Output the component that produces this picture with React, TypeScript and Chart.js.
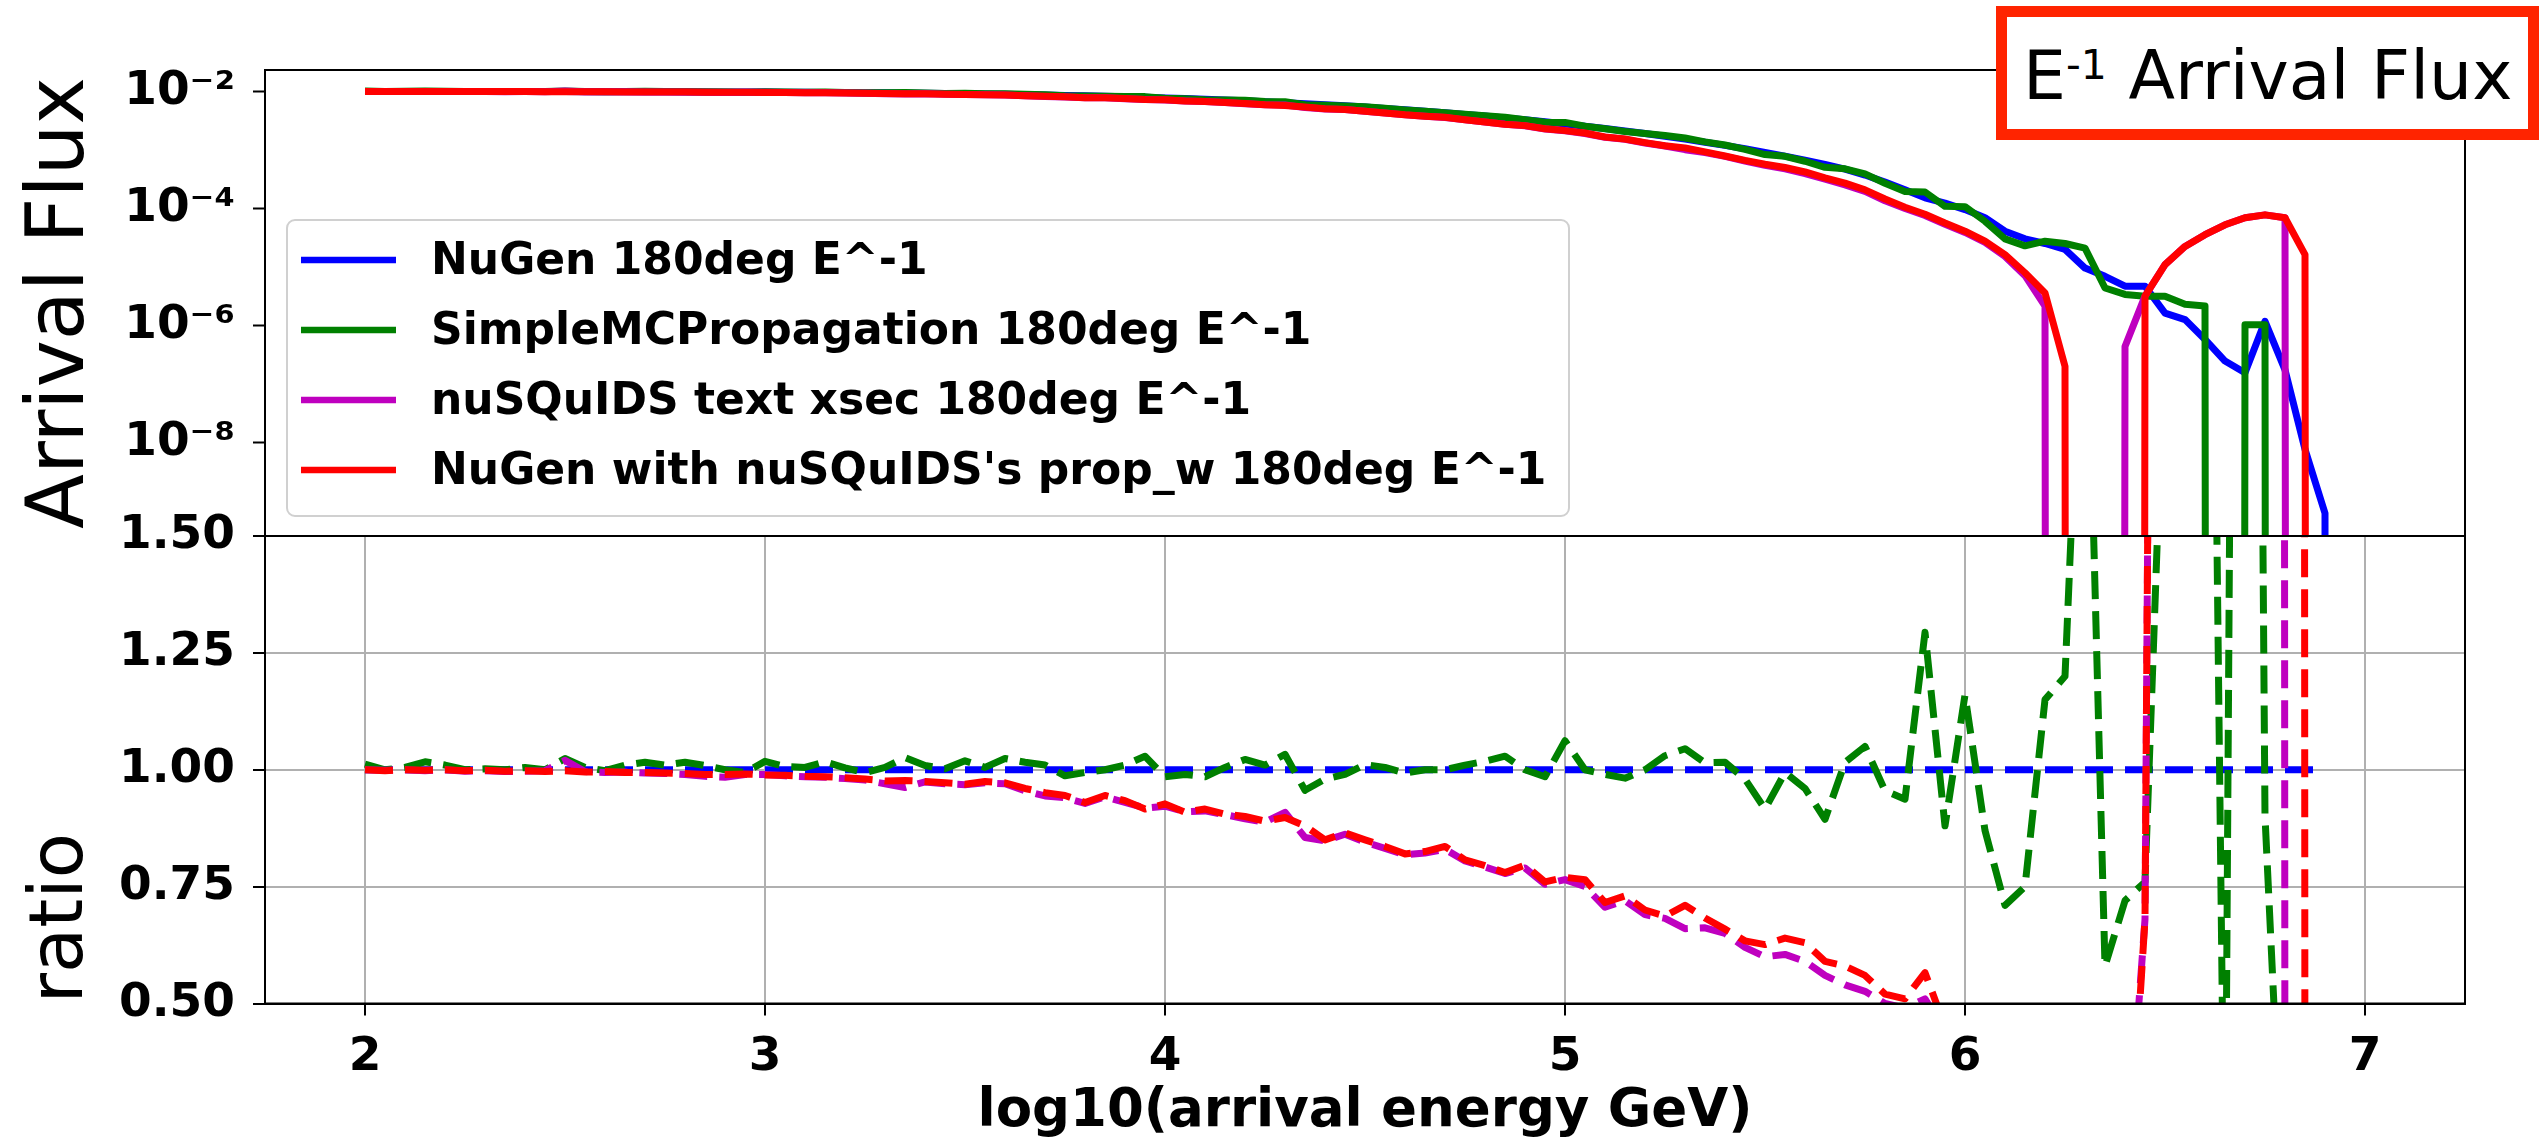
import React, { useEffect, useRef } from 'react';
import { Chart, registerables } from 'chart.js';

Chart.register(...registerables);

const FONT = "'DejaVu Sans', 'Noto Sans', sans-serif";

// ---------------- data ----------------
const logEnergy = [
  2.00, 2.05, 2.10, 2.15, 2.20, 2.25, 2.30, 2.35, 2.40, 2.45,
  2.50, 2.55, 2.60, 2.65, 2.70, 2.75, 2.80, 2.85, 2.90, 2.95,
  3.00, 3.05, 3.10, 3.15, 3.20, 3.25, 3.30, 3.35, 3.40, 3.45,
  3.50, 3.55, 3.60, 3.65, 3.70, 3.75, 3.80, 3.85, 3.90, 3.95,
  4.00, 4.05, 4.10, 4.15, 4.20, 4.25, 4.30, 4.35, 4.40, 4.45,
  4.50, 4.55, 4.60, 4.65, 4.70, 4.75, 4.80, 4.85, 4.90, 4.95,
  5.00, 5.05, 5.10, 5.15, 5.20, 5.25, 5.30, 5.35, 5.40, 5.45,
  5.50, 5.55, 5.60, 5.65, 5.70, 5.75, 5.80, 5.85, 5.90, 5.95,
  6.00, 6.05, 6.10, 6.15, 6.20, 6.25, 6.30, 6.35, 6.40, 6.45,
  6.50, 6.55, 6.60, 6.65, 6.70, 6.75, 6.80, 6.85, 6.90, 6.95,
  7.00,
];

// log10(arrival flux); null = zero flux
const nugenLogFlux = [
  -2.000, -2.000, -2.000, -2.000, -2.001, -2.001, -2.001, -2.002, -2.002, -2.003,
  -2.003, -2.004, -2.004, -2.005, -2.006, -2.007, -2.008, -2.009, -2.010, -2.011,
  -2.012, -2.014, -2.016, -2.018, -2.020, -2.022, -2.025, -2.028, -2.031, -2.035,
  -2.039, -2.044, -2.049, -2.055, -2.061, -2.068, -2.075, -2.083, -2.092, -2.101,
  -2.111, -2.122, -2.134, -2.147, -2.161, -2.176, -2.192, -2.209, -2.227, -2.247,
  -2.268, -2.290, -2.314, -2.339, -2.365, -2.393, -2.422, -2.453, -2.486, -2.520,
  -2.556, -2.594, -2.634, -2.676, -2.720, -2.767, -2.816, -2.868, -2.923, -2.981,
  -3.042, -3.107, -3.176, -3.249, -3.330, -3.430, -3.550, -3.680, -3.820, -3.910,
  -4.020, -4.160, -4.390, -4.520, -4.600, -4.700, -5.020, -5.160, -5.330, -5.330,
  -5.790, -5.900, -6.240, -6.610, -6.810, -5.930, -6.760, -8.120, -9.210, null,
  null,
];

const simpleMCLogFlux = [
  -1.995, -2.000, -1.998, -1.993, -1.997, -2.001, -2.000, -2.002, -2.000, -2.003,
  -1.993, -2.002, -2.005, -2.001, -1.999, -2.003, -2.001, -2.005, -2.010, -2.014,
  -2.004, -2.011, -2.014, -2.011, -2.018, -2.025, -2.023, -2.017, -2.027, -2.034,
  -2.031, -2.042, -2.039, -2.048, -2.057, -2.074, -2.078, -2.083, -2.088, -2.089,
  -2.118, -2.126, -2.141, -2.145, -2.152, -2.172, -2.178, -2.229, -2.236, -2.251,
  -2.263, -2.288, -2.317, -2.339, -2.365, -2.389, -2.414, -2.441, -2.486, -2.527,
  -2.530, -2.594, -2.638, -2.684, -2.720, -2.754, -2.797, -2.862, -2.916, -2.990,
  -3.080, -3.110, -3.194, -3.298, -3.323, -3.409, -3.570, -3.710, -3.720, -3.965,
  -3.970, -4.220, -4.520, -4.640, -4.560, -4.600, -4.680, -5.360, -5.470, -5.500,
  -5.500, -5.640, -5.670, null, -5.990, -5.990, null, null, null, null,
  null,
];

const nusquidsLogFlux = [
  -2.000, -2.000, -2.000, -2.001, -2.001, -2.002, -2.002, -2.004, -2.003, -2.004,
  -1.994, -2.006, -2.007, -2.007, -2.009, -2.010, -2.012, -2.015, -2.017, -2.015,
  -2.016, -2.020, -2.023, -2.025, -2.028, -2.032, -2.038, -2.045, -2.042, -2.048,
  -2.053, -2.056, -2.062, -2.075, -2.086, -2.095, -2.107, -2.109, -2.124, -2.138,
  -2.146, -2.163, -2.174, -2.191, -2.209, -2.228, -2.233, -2.277, -2.299, -2.311,
  -2.341, -2.370, -2.401, -2.424, -2.446, -2.487, -2.523, -2.562, -2.588, -2.642,
  -2.672, -2.719, -2.785, -2.819, -2.881, -2.933, -2.996, -3.047, -3.110, -3.189,
  -3.264, -3.325, -3.405, -3.501, -3.598, -3.709, -3.870, -4.000, -4.120, -4.270,
  -4.410, -4.580, -4.820, -5.150, -5.670, null, null, null, -6.360, -5.500,
  -4.960, -4.650, -4.450, -4.280, -4.160, -4.110, -4.160, null, null, null,
  null,
];

const nugenNusquidsLogFlux = [
  -2.000, -2.001, -2.000, -2.000, -2.001, -2.002, -2.001, -2.003, -2.003, -2.005,
  -2.004, -2.006, -2.006, -2.008, -2.009, -2.010, -2.012, -2.013, -2.014, -2.015,
  -2.017, -2.019, -2.022, -2.025, -2.027, -2.031, -2.036, -2.038, -2.042, -2.047,
  -2.053, -2.055, -2.061, -2.073, -2.083, -2.093, -2.107, -2.108, -2.122, -2.139,
  -2.144, -2.163, -2.172, -2.190, -2.207, -2.227, -2.239, -2.265, -2.298, -2.310,
  -2.339, -2.368, -2.400, -2.423, -2.443, -2.486, -2.522, -2.561, -2.585, -2.639,
  -2.670, -2.710, -2.779, -2.813, -2.875, -2.930, -2.965, -3.034, -3.104, -3.179,
  -3.245, -3.301, -3.377, -3.478, -3.567, -3.682, -3.840, -3.980, -4.100, -4.250,
  -4.390, -4.560, -4.790, -5.100, -5.445, -6.700, null, null, null, -5.500,
  -4.960, -4.650, -4.450, -4.280, -4.160, -4.110, -4.160, -4.790, null, null,
  null,
];

// ratio to NuGen; null = undefined (0/0)
const nugenRatio = [
  1, 1, 1, 1, 1, 1, 1, 1, 1, 1,
  1, 1, 1, 1, 1, 1, 1, 1, 1, 1,
  1, 1, 1, 1, 1, 1, 1, 1, 1, 1,
  1, 1, 1, 1, 1, 1, 1, 1, 1, 1,
  1, 1, 1, 1, 1, 1, 1, 1, 1, 1,
  1, 1, 1, 1, 1, 1, 1, 1, 1, 1,
  1, 1, 1, 1, 1, 1, 1, 1, 1, 1,
  1, 1, 1, 1, 1, 1, 1, 1, 1, 1,
  1, 1, 1, 1, 1, 1, 1, 1, 1, 1,
  1, 1, 1, 1, 1, 1, 1, 1, 1, null,
  null,
];

const simpleMCRatio = [
  1.012, 1.000, 1.005, 1.017, 1.010, 1.000, 1.002, 1.000, 1.005, 1.000,
  1.024, 1.005, 0.998, 1.010, 1.016, 1.010, 1.016, 1.009, 1.000, 0.994,
  1.018, 1.007, 1.005, 1.017, 1.004, 0.994, 1.005, 1.026, 1.009, 1.002,
  1.019, 1.005, 1.024, 1.016, 1.010, 0.987, 0.994, 1.000, 1.010, 1.029,
  0.985, 0.990, 0.985, 1.005, 1.022, 1.010, 1.033, 0.956, 0.980, 0.990,
  1.011, 1.005, 0.993, 1.000, 1.000, 1.010, 1.018, 1.029, 1.000, 0.985,
  1.062, 1.000, 0.990, 0.982, 1.000, 1.030, 1.045, 1.015, 1.016, 0.980,
  0.916, 0.994, 0.960, 0.894, 1.016, 1.050, 0.955, 0.937, 1.294, 0.880,
  1.160, 0.870, 0.710, 0.750, 1.150, 1.200, 2.200, 0.580, 0.720, 0.760,
  1.950, 1.820, 3.700, 0, 6.600, 0.900, 0, 0, 0, null,
  null,
];

const nusquidsRatio = [
  1.000, 0.999, 1.000, 0.998, 1.000, 0.997, 0.998, 0.996, 0.997, 0.998,
  1.020, 0.996, 0.994, 0.995, 0.993, 0.992, 0.990, 0.986, 0.984, 0.990,
  0.990, 0.987, 0.985, 0.984, 0.981, 0.978, 0.970, 0.962, 0.974, 0.970,
  0.968, 0.972, 0.970, 0.955, 0.944, 0.940, 0.928, 0.942, 0.930, 0.918,
  0.922, 0.910, 0.912, 0.904, 0.895, 0.888, 0.909, 0.855, 0.848, 0.862,
  0.845, 0.832, 0.818, 0.822, 0.830, 0.805, 0.792, 0.778, 0.790, 0.755,
  0.765, 0.750, 0.706, 0.720, 0.690, 0.682, 0.660, 0.662, 0.650, 0.620,
  0.600, 0.605, 0.590, 0.560, 0.540, 0.526, 0.500, 0.490, 0.510, 0.440,
  0.420, 0.390, 0.380, 0.200, 0.085, 0, 0, 0, 0.093, 0.680,
  6.8, 17.8, 62, 214, 447, 66, 0, 0, 0, null,
  null,
];

const nugenNusquidsRatio = [
  1.000, 0.998, 1.000, 0.999, 1.000, 0.998, 0.999, 0.997, 0.998, 0.996,
  0.998, 0.995, 0.996, 0.994, 0.994, 0.993, 0.992, 0.990, 0.990, 0.991,
  0.989, 0.988, 0.986, 0.985, 0.983, 0.980, 0.976, 0.977, 0.975, 0.972,
  0.969, 0.975, 0.972, 0.960, 0.951, 0.945, 0.930, 0.945, 0.934, 0.916,
  0.927, 0.909, 0.916, 0.905, 0.900, 0.890, 0.898, 0.880, 0.850, 0.865,
  0.850, 0.836, 0.820, 0.825, 0.836, 0.807, 0.795, 0.780, 0.796, 0.760,
  0.770, 0.765, 0.716, 0.730, 0.700, 0.687, 0.710, 0.683, 0.659, 0.634,
  0.626, 0.640, 0.630, 0.590, 0.580, 0.560, 0.520, 0.510, 0.566, 0.450,
  0.430, 0.400, 0.400, 0.260, 0.140, 0.010, 0, 0, 0, 0.680,
  6.8, 17.8, 62, 214, 447, 66, 400, 0, 0, null,
  null,
];

const seriesLabels = [
  'NuGen 180deg E^-1',
  'SimpleMCPropagation 180deg E^-1',
  'nuSQuIDS text xsec 180deg E^-1',
  "NuGen with nuSQuIDS's prop_w 180deg E^-1",
];
const seriesColors = ['#0000ff', '#008000', '#bf00bf', '#ff0000'];

const fluxSeries = [nugenLogFlux, simpleMCLogFlux, nusquidsLogFlux, nugenNusquidsLogFlux];
const ratioSeries = [nugenRatio, simpleMCRatio, nusquidsRatio, nugenNusquidsRatio];

const energyTicks = [2, 3, 4, 5, 6, 7];
const fluxTicks = [1e-8, 1e-6, 1e-4, 1e-2];
const ratioTicks = [0.5, 0.75, 1.0, 1.25, 1.5];

const X_MIN = 1.75;
const X_MAX = 7.25;
const FLUX_MIN = Math.pow(10, -9.6);
const FLUX_MAX = Math.pow(10, -1.634);
// zero flux is clipped to a tiny positive value on the log axis (as matplotlib does)
const LOG_CLIP = 1e-300;

const SUP: Record<string, string> = {
  '-': '\u207B', '0': '\u2070', '1': '\u00B9', '2': '\u00B2', '3': '\u00B3',
  '4': '\u2074', '5': '\u2075', '6': '\u2076', '7': '\u2077', '8': '\u2078', '9': '\u2079',
};

const framePlugin = {
  id: 'axesFrame',
  afterDraw(chart: any) {
    const { ctx, chartArea } = chart;
    ctx.save();
    ctx.strokeStyle = '#000';
    ctx.lineWidth = 2;
    ctx.setLineDash([]);
    ctx.strokeRect(chartArea.left, chartArea.top, chartArea.right - chartArea.left, chartArea.bottom - chartArea.top);
    ctx.restore();
  },
};

const legendPlugin = {
  id: 'insideLegend',
  afterDraw(chart: any) {
    const { ctx, chartArea } = chart;
    const x0 = chartArea.left + 22;
    const y0 = chartArea.top + 150;
    const w = 1282;
    const h = 296;
    ctx.save();
    ctx.beginPath();
    if (ctx.roundRect) ctx.roundRect(x0, y0, w, h, 8);
    else ctx.rect(x0, y0, w, h);
    ctx.fillStyle = 'rgba(255,255,255,0.8)';
    ctx.fill();
    ctx.lineWidth = 2;
    ctx.strokeStyle = '#d0d0d0';
    ctx.stroke();
    chart.data.datasets.forEach((ds: any, k: number) => {
      const y = y0 + 40 + k * 70;
      ctx.beginPath();
      ctx.moveTo(x0 + 14, y);
      ctx.lineTo(x0 + 109, y);
      ctx.strokeStyle = ds.borderColor;
      ctx.lineWidth = 6.5;
      ctx.setLineDash([]);
      ctx.stroke();
      ctx.font = `bold 44px ${FONT}`;
      ctx.fillStyle = '#000';
      ctx.textBaseline = 'middle';
      ctx.textAlign = 'left';
      ctx.fillText(ds.label, x0 + 144, y + 3);
    });
    ctx.restore();
  },
};

const tickFont = { family: FONT, weight: 'bold' as const, size: 47 };

const fixY = (scale: any) => {
  scale.width = 265;
  scale.paddingTop = 0;
  scale.paddingBottom = 0;
};

export default function App() {
  const topRef = useRef<HTMLCanvasElement>(null);
  const bottomRef = useRef<HTMLCanvasElement>(null);

  useEffect(() => {
    Chart.defaults.font.family = FONT;
    Chart.defaults.color = '#000';

    const top = new Chart(topRef.current as HTMLCanvasElement, {
      type: 'line',
      data: {
        datasets: fluxSeries.map((s, k) => ({
          label: seriesLabels[k],
          data: logEnergy.map((x, i) => ({ x, y: s[i] === null ? LOG_CLIP : Math.pow(10, s[i] as number) })),
          borderColor: seriesColors[k],
          backgroundColor: seriesColors[k],
          borderWidth: 7,
          pointRadius: 0,
          tension: 0,
          fill: false,
          clip: 0,
          order: 4 - k,
          borderJoinStyle: 'round',
          borderCapStyle: 'butt',
        })),
      },
      options: {
        responsive: false,
        animation: false,
        devicePixelRatio: 1,
        events: [],
        layout: { padding: { left: 0, right: 83, top: 70, bottom: 24 } },
        plugins: { legend: { display: false }, tooltip: { enabled: false } },
        scales: {
          x: { type: 'linear', display: false, min: X_MIN, max: X_MAX },
          y: {
            type: 'logarithmic',
            min: FLUX_MIN,
            max: FLUX_MAX,
            afterBuildTicks: (scale: any) => {
              scale.ticks = fluxTicks.map((v) => ({ value: v }));
            },
            afterFit: fixY,
            ticks: {
              font: tickFont,
              color: '#000',
              padding: 18,
              callback: (v: any) => {
                const e = Math.round(Math.log10(Number(v)));
                return '10' + String(e).split('').map((c) => SUP[c] || c).join('');
              },
            },
            grid: { drawOnChartArea: false, drawTicks: true, tickLength: 12, tickColor: '#000', tickWidth: 2 },
            border: { display: true, color: '#000', width: 2 },
            title: {
              display: true,
              text: 'Arrival Flux',
              color: '#000',
              font: { family: FONT, size: 80, weight: 'normal' },
              padding: { top: 14, bottom: 0 },
            },
          },
        },
      } as any,
      plugins: [framePlugin, legendPlugin],
    });

    const bottom = new Chart(bottomRef.current as HTMLCanvasElement, {
      type: 'line',
      data: {
        datasets: ratioSeries.map((s, k) => ({
          label: seriesLabels[k],
          data: logEnergy.map((x, i) => ({ x, y: s[i] })),
          borderColor: seriesColors[k],
          backgroundColor: seriesColors[k],
          borderWidth: 7,
          borderDash: [28, 12],
          pointRadius: 0,
          tension: 0,
          fill: false,
          clip: 0,
          order: 4 - k,
          borderJoinStyle: 'round',
          borderCapStyle: 'butt',
        })),
      },
      options: {
        responsive: false,
        animation: false,
        devicePixelRatio: 1,
        events: [],
        layout: { padding: { left: 0, right: 83, top: 36, bottom: 0 } },
        plugins: { legend: { display: false }, tooltip: { enabled: false } },
        scales: {
          x: {
            type: 'linear',
            min: X_MIN,
            max: X_MAX,
            afterBuildTicks: (scale: any) => {
              scale.ticks = energyTicks.map((v) => ({ value: v }));
            },
            afterFit: (scale: any) => {
              scale.height = 140.5;
              scale.paddingLeft = 0;
              scale.paddingRight = 0;
            },
            ticks: { font: tickFont, color: '#000', padding: 14, maxRotation: 0, autoSkip: false, callback: (v: any) => String(v) },
            grid: { color: '#b0b0b0', lineWidth: 2, drawTicks: true, tickLength: 12, tickColor: '#000', tickWidth: 2 },
            border: { display: true, color: '#000', width: 2 },
            title: {
              display: true,
              text: 'log10(arrival energy GeV)',
              color: '#000',
              font: { family: FONT, size: 53, weight: 'bold' },
              padding: { top: 0, bottom: 0 },
            },
          },
          y: {
            type: 'linear',
            min: 0.5,
            max: 1.5,
            afterBuildTicks: (scale: any) => {
              scale.ticks = ratioTicks.map((v) => ({ value: v }));
            },
            afterFit: fixY,
            ticks: { font: tickFont, color: '#000', padding: 18, callback: (v: any) => Number(v).toFixed(2) },
            grid: { color: '#b0b0b0', lineWidth: 2, drawTicks: true, tickLength: 12, tickColor: '#000', tickWidth: 2 },
            border: { display: true, color: '#000', width: 2 },
            title: {
              display: true,
              text: 'ratio',
              align: 'start',
              color: '#000',
              font: { family: FONT, size: 74, weight: 'normal' },
              padding: { top: 18, bottom: 0 },
            },
          },
        },
      } as any,
      plugins: [framePlugin],
    });

    return () => {
      top.destroy();
      bottom.destroy();
    };
  }, []);

  return (
    <div style={{ position: 'absolute', left: 0, top: 0, width: 2548, height: 1144, background: '#fff', overflow: 'hidden' }}>
      <canvas ref={topRef} width={2548} height={560} style={{ position: 'absolute', left: 0, top: 0 }} />
      <canvas ref={bottomRef} width={2548} height={644} style={{ position: 'absolute', left: 0, top: 500 }} />
      <div
        style={{
          position: 'absolute',
          left: 1996,
          top: 6,
          width: 543,
          height: 134,
          boxSizing: 'border-box',
          border: '11px solid #ff2400',
          background: '#fff',
          color: '#000',
          fontFamily: FONT,
          fontSize: 68,
          lineHeight: '68px',
          paddingLeft: 16,
          paddingTop: 25,
          whiteSpace: 'nowrap',
        }}
      >
        E<span style={{ fontSize: 41, position: 'relative', top: -20 }}>-1</span> Arrival Flux
      </div>
    </div>
  );
}
